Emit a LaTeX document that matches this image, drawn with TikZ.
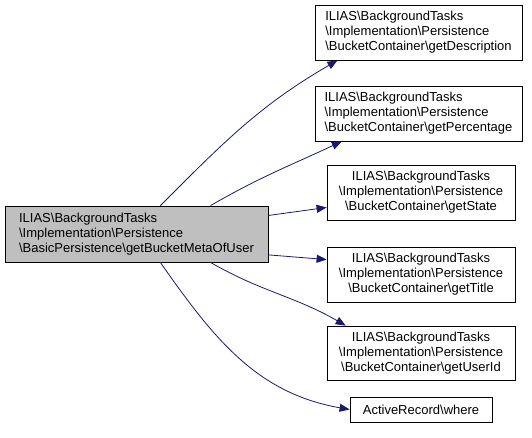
\documentclass[tikz,border=0pt]{standalone}
\usepackage{fontspec}
\setmainfont{Liberation Sans}
\usetikzlibrary{arrows.meta}
\definecolor{edgeblue}{RGB}{25,25,112}
\newcommand{\bsl}{\textbackslash}
\tikzstyle{func} = [draw, rectangle, line width=0.8pt, inner sep=0pt, font=\fontsize{13}{15}\selectfont]
\tikzstyle{arrow} = [edgeblue, line width=0.8pt, -{Triangle[length=10pt,width=8pt]}]

\begin{document}
\begin{tikzpicture}[x=1pt, y=1pt]
        \useasboundingbox (0,0) rectangle (532,-437);

        \node at (136.5,-234) [func, fill=gray!50, align=left, minimum width=263, minimum height=56](main) {ILIAS\bsl BackgroundTasks\\\bsl Implementation\bsl Persistence\\\bsl BasicPersistence\bsl getBucketMetaOfUser};

        \node at (418.5,-32.5) [func, align=left, minimum width=207, minimum height=55](desc) {ILIAS\bsl BackgroundTasks\\\bsl Implementation\bsl Persistence\\\bsl BucketContainer\bsl getDescription};
        \node at (418.5,-113.5) [func, align=left, minimum width=207, minimum height=55](perc) {ILIAS\bsl BackgroundTasks\\\bsl Implementation\bsl Persistence\\\bsl BucketContainer\bsl getPercentage};
        \node at (421,-192.5) [func, align=center, minimum width=188, minimum height=55](state) {ILIAS\bsl BackgroundTasks\\\bsl Implementation\bsl Persistence\\\bsl BucketContainer\bsl getState};
        \node at (421,-274.5) [func, align=center, minimum width=188, minimum height=55](title) {ILIAS\bsl BackgroundTasks\\\bsl Implementation\bsl Persistence\\\bsl BucketContainer\bsl getTitle};
        \node at (421,-353) [func, align=center, minimum width=188, minimum height=54](userid) {ILIAS\bsl BackgroundTasks\\\bsl Implementation\bsl Persistence\\\bsl BucketContainer\bsl getUserId};
        \node at (421,-409.5) [func, minimum width=142, minimum height=25](where) {ActiveRecord\bsl where};

        \draw[arrow] (main.50) to[out=45,in=210] (desc.199);
        \draw[arrow] (main.21) to[out=30,in=205] (perc.200);
        \draw[arrow] (main.8) -- (state.189);
        \draw[arrow] (main.-9) -- (title.171);
        \draw[arrow] (main.-21) to[out=-30,in=150] (userid.160);
        \draw[arrow] (main.-50) to[out=-55,in=170] (where.180);

    \end{tikzpicture}
\end{document}
